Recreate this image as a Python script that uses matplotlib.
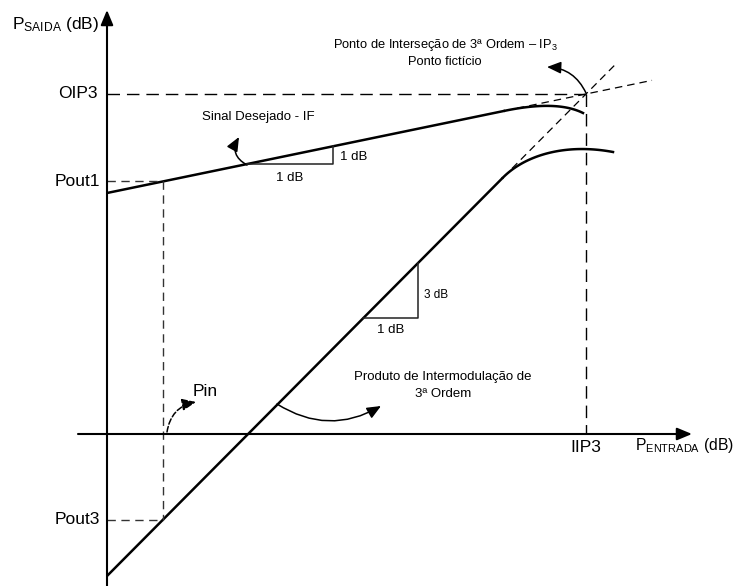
import numpy as np
import matplotlib.pyplot as plt
from matplotlib.patches import FancyArrowPatch

plt.rcParams['font.family'] = ['Liberation Sans', 'DejaVu Sans']
plt.rcParams['mathtext.fontset'] = 'custom'
plt.rcParams['mathtext.rm'] = 'Liberation Sans'
plt.rcParams['mathtext.it'] = 'Liberation Sans:italic'

# Diagram quantities (arbitrary dB units, origin where the axes cross)
iip3 = 47.9
oip3 = 34.0
pin = 5.6
wanted_intercept = 24.1     # wanted output at Pin = 0
im3_intercept = -14.2       # 3rd order product at Pin = 0
wanted_slope = (oip3 - wanted_intercept) / iip3
im3_slope = (oip3 - im3_intercept) / iip3
pout1 = wanted_intercept + wanted_slope * pin
pout3 = im3_intercept + im3_slope * pin

# compression: linear part ends at the knee, then a bezier bends down
wanted_knee_x = 39.8
wanted_ctrl = [(45.0, wanted_intercept + wanted_slope * 45.0), (47.6, 32.1)]
im3_knee_x = 39.6
im3_ctrl = [(41.8, im3_intercept + im3_slope * 41.8), (45.8, 29.1), (50.6, 28.2)]
wanted_ext = (41.0, 54.5)   # dashed extrapolation range
im3_ext = (40.5, 51.0)

# slope triangles: (start x, run)
wanted_tri = (14.0, 8.6)
im3_tri = (25.6, 5.5)

# axis extents
x_axis = (-2.9, 58.5)
y_axis = (-15.2, 42.4)


def bezier(pts, n=60):
    pts = [np.array(p, dtype=float) for p in pts]
    t = np.linspace(0, 1, n)[:, None]
    pts = [np.tile(p, (n, 1)) for p in pts]
    while len(pts) > 1:
        pts = [(1 - t) * a + t * b for a, b in zip(pts[:-1], pts[1:])]
    return pts[0]


fig = plt.figure(figsize=(7.4, 5.86), dpi=100)
ax = fig.add_axes([0, 0, 1, 1])
ax.set_xlim(-10.7, 63.3)
ax.set_ylim(-15.2, 43.4)
ax.axis('off')

head = '-|>,head_length=0.6,head_width=0.25'
# axes with arrows
ax.annotate('', xy=(0, y_axis[1]), xytext=(0, y_axis[0]),
            arrowprops=dict(arrowstyle=head, lw=1.5, color='black', mutation_scale=15,
                            shrinkA=0, shrinkB=0))
ax.annotate('', xy=(x_axis[1], 0), xytext=(x_axis[0], 0),
            arrowprops=dict(arrowstyle=head, lw=1.5, color='black', mutation_scale=15,
                            shrinkA=0, shrinkB=0))

# wanted signal
xw = np.array([0, wanted_knee_x])
ax.plot(xw, wanted_intercept + wanted_slope * xw, color='black', lw=1.8, solid_capstyle='butt')
p0 = (wanted_knee_x, wanted_intercept + wanted_slope * wanted_knee_x)
cw = bezier([p0] + wanted_ctrl)
ax.plot(cw[:, 0], cw[:, 1], color='black', lw=1.8)
xe = np.array(wanted_ext)
ax.plot(xe, wanted_intercept + wanted_slope * xe, color='black', lw=0.9, ls=(0, (6, 4)))

# third order product
xi = np.array([0, im3_knee_x])
ax.plot(xi, im3_intercept + im3_slope * xi, color='black', lw=1.8, solid_capstyle='butt')
p0 = (im3_knee_x, im3_intercept + im3_slope * im3_knee_x)
ci = bezier([p0] + im3_ctrl)
ax.plot(ci[:, 0], ci[:, 1], color='black', lw=1.8)
xe = np.array(im3_ext)
ax.plot(xe, im3_intercept + im3_slope * xe, color='black', lw=0.9, ls=(0, (6, 4)))

# OIP3 / IIP3 guides
ax.plot([0, iip3], [oip3, oip3], color='black', lw=1.0, ls=(0, (9, 5)))
ax.plot([iip3, iip3], [oip3, 0], color='black', lw=1.0, ls=(0, (9, 5)))

# Pin / Pout guides
guide = dict(color='#333333', lw=1.0, ls=(0, (6, 4)))
ax.plot([0, pin], [pout1, pout1], **guide)
ax.plot([pin, pin], [pout1, pout3], **guide)
ax.plot([0, pin], [pout3, pout3], **guide)

# slope triangles
x0, run = wanted_tri
y0 = wanted_intercept + wanted_slope * x0
ax.plot([x0, x0 + run, x0 + run], [y0, y0, y0 + wanted_slope * run], color='#222222', lw=1.1)
ax.text(x0 + run / 2, y0 - 1.4, '1 dB', fontsize=9.5, ha='center', va='center')
ax.text(x0 + run + 0.7, y0 + 0.75, '1 dB', fontsize=9.5, ha='left', va='center')
x0, run = im3_tri
y0 = im3_intercept + im3_slope * x0
ax.plot([x0, x0 + run, x0 + run], [y0, y0, y0 + im3_slope * run], color='#222222', lw=1.1)
ax.text(x0 + run / 2, y0 - 1.2, '1 dB', fontsize=9.5, ha='center', va='center')
ax.text(x0 + run + 0.6, y0 + 2.3, '3 dB', fontsize=8.5, ha='left', va='center')

# axis labels and tick names
ax.text(-9.5, 40.5, r'$\mathrm{P_{SAIDA}}$ (dB)', fontsize=12.5, ha='left', va='baseline')
ax.text(52.8, -1.6, r'$\mathrm{P_{ENTRADA}}$ (dB)', fontsize=11.3, ha='left', va='baseline')
ax.text(-0.9, oip3, 'OIP3', fontsize=12.5, ha='right', va='center')
ax.text(-0.7, pout1, 'Pout1', fontsize=12.5, ha='right', va='center')
ax.text(-0.7, pout3, 'Pout3', fontsize=12.5, ha='right', va='center')
ax.text(iip3, -1.4, 'IIP3', fontsize=12.5, ha='center', va='center')

# annotations
ax.text(15.1, 31.7, 'Sinal Desejado - IF', fontsize=9.5, ha='center', va='center')
ax.text(33.8, 38.9, r'Ponto de Interseção de 3ª Ordem – $\mathrm{IP_3}$', fontsize=9.3,
        ha='center', va='center')
ax.text(33.8, 37.2, 'Ponto fictício', fontsize=9.3, ha='center', va='center')
ax.text(8.6, 4.2, 'Pin', fontsize=12.5, ha='left', va='center')
ax.text(33.6, 5.7, 'Produto de Intermodulação de', fontsize=9.5, ha='center', va='center')
ax.text(33.6, 4.0, '3ª Ordem', fontsize=9.5, ha='center', va='center')

small_head = '-|>,head_length=0.7,head_width=0.3'
arrows = [((14.0, 26.9), (13.2, 29.7), -0.5, '-'),
          ((47.9, 34.1), (44.0, 36.7), 0.3, '-'),
          ((6.0, 0.2), (8.9, 3.2), -0.35, '--'),
          ((17.0, 3.0), (27.4, 2.8), 0.3, '-')]
for start, end, rad, ls in arrows:
    ax.add_patch(FancyArrowPatch(start, end, arrowstyle=small_head, mutation_scale=12,
                                 connectionstyle=f'arc3,rad={rad}', lw=1.1, ls=ls,
                                 color='black', shrinkA=0, shrinkB=0))

fig.savefig('out.png', dpi=100)
